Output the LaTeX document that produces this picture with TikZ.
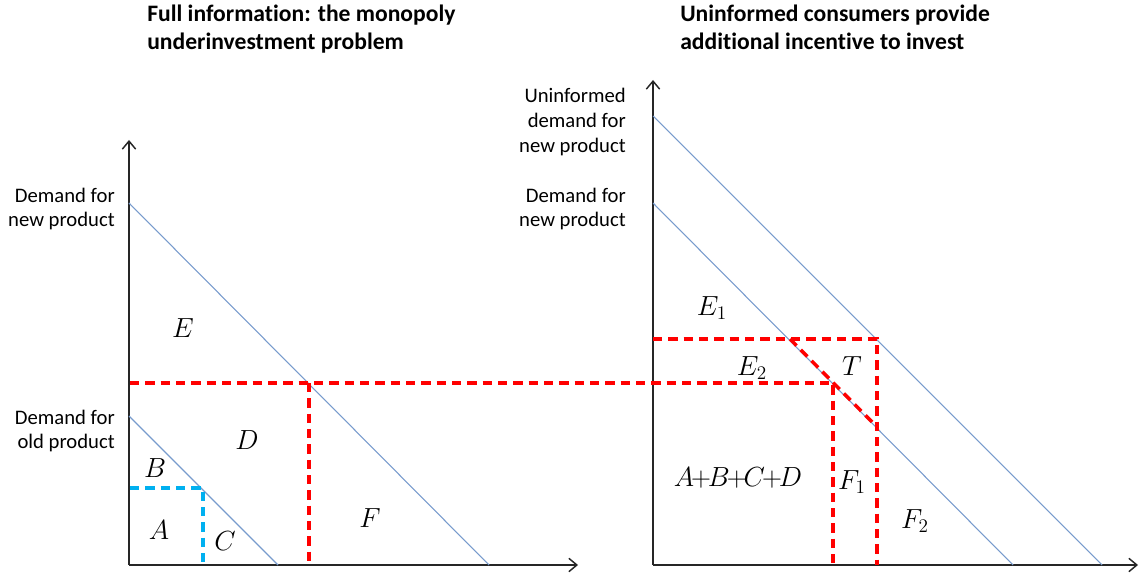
\documentclass[tikz,border=0pt]{standalone}
\usepackage{fontspec}
\setmainfont{Carlito}[Ligatures=NoCommon]
\usetikzlibrary{arrows.meta,positioning}
\definecolor{demandblue}{RGB}{120,155,205}
\definecolor{gapred}{RGB}{255,0,0}
\definecolor{oldblue}{RGB}{0,176,240}

\begin{document}
\begin{tikzpicture}[x=0.75pt,y=-0.75pt,
  axis/.style={line width=1.1pt,black!85,-{Straight Barb[length=6pt,width=10pt]}},
  demand/.style={demandblue,line width=0.8pt},
  gap/.style={gapred,line width=2.6pt,dash pattern=on 7pt off 4.5pt},
  oldgap/.style={oldblue,line width=2.6pt,dash pattern=on 7pt off 4.5pt},
  axlabel/.style={align=right,anchor=east,inner sep=0pt,font=\fontsize{15.5}{18.5}\selectfont},
  title/.style={align=left,anchor=north west,inner sep=0pt,font=\fontsize{17.7}{20.5}\selectfont\bfseries},
  area/.style={inner sep=0pt,font=\fontsize{22}{26}\selectfont}]
\useasboundingbox (0,0) rectangle (1139,577);

% titles
\node[title] (ltitle) at (147,5) {Full information: the monopoly\\underinvestment problem};
\node[title] (rtitle) at (680,5) {Uninformed consumers provide\\additional incentive to invest};

% axes
\coordinate (lo) at (129,565);
\coordinate (ltop) at (129,140);
\coordinate (lend) at (578,565);
\coordinate (ro) at (653,565);
\coordinate (rtop) at (653,80);
\coordinate (rend) at (1138,565);
\draw[axis] (lo) -- (ltop);
\draw[axis] (lo) -- (lend);
\draw[axis] (ro) -- (rtop);
\draw[axis] (ro) -- (rend);

% demand curves
\coordinate (lnew0) at (129,203);
\coordinate (lnew1) at (489,565);
\coordinate (lold0) at (129,416);
\coordinate (lold1) at (278,565);
\coordinate (runi0) at (653,116);
\coordinate (runi1) at (1102,565);
\coordinate (rnew0) at (653,203);
\coordinate (rnew1) at (1013,565);
\draw[demand] (lnew0) -- (lnew1);
\draw[demand] (lold0) -- (lold1);
\draw[demand] (runi0) -- (runi1);
\draw[demand] (rnew0) -- (rnew1);

% quantity and price levels
\coordinate (oldq) at (203,488);
\coordinate (newq) at (309,383);
\coordinate (newr) at (833,383);
\coordinate (uniq) at (877,339);
\coordinate (cut) at (790,339);
\coordinate (low) at (877,427);
\draw[oldgap] (130,488) -- (oldq) -- (oldq |- lo);
\draw[gap] (130,383) -- (newr) -- (newr |- ro);
\draw[gap] (newq) -- (newq |- lo);
\draw[gap] (ro |- uniq) -- (uniq) -- (uniq |- ro);
\draw[gap] (cut) -- (low);

% axis labels
\node[axlabel] (lnewlab) at (115,209) {Demand for\\new product};
\node[axlabel] (loldlab) at (115,431) {Demand for\\old product};
\node[axlabel] (runilab) at (626,122) {Uninformed\\demand for\\new product};
\node[axlabel] (rnewlab) at (626,209) {Demand for\\new product};

% areas
\node[area] (e) at (183,328) {$E$};
\node[area] (d) at (247,440) {$D$};
\node[area] (b) at (155,468) {$B$};
\node[area] (a) at (159,530) {$A$};
\node[area] (c) at (225,541) {$C$};
\node[area] (f) at (370,518) {$F$};
\node[area] (e1) at (712,308) {$E_1$};
\node[area] (e2) at (752,368) {$E_2$};
\node[area] (t) at (852,366) {$T$};
\node[area] (abcd) at (738,478) {$A\mkern-2mu{+}\mkern-2mu B\mkern-2mu{+}\mkern-2mu C\mkern-2mu{+}\mkern-2mu D$};
\node[area] (f1) at (852,482) {$F_1$};
\node[area] (f2) at (915,521) {$F_2$};
\end{tikzpicture}
\end{document}
